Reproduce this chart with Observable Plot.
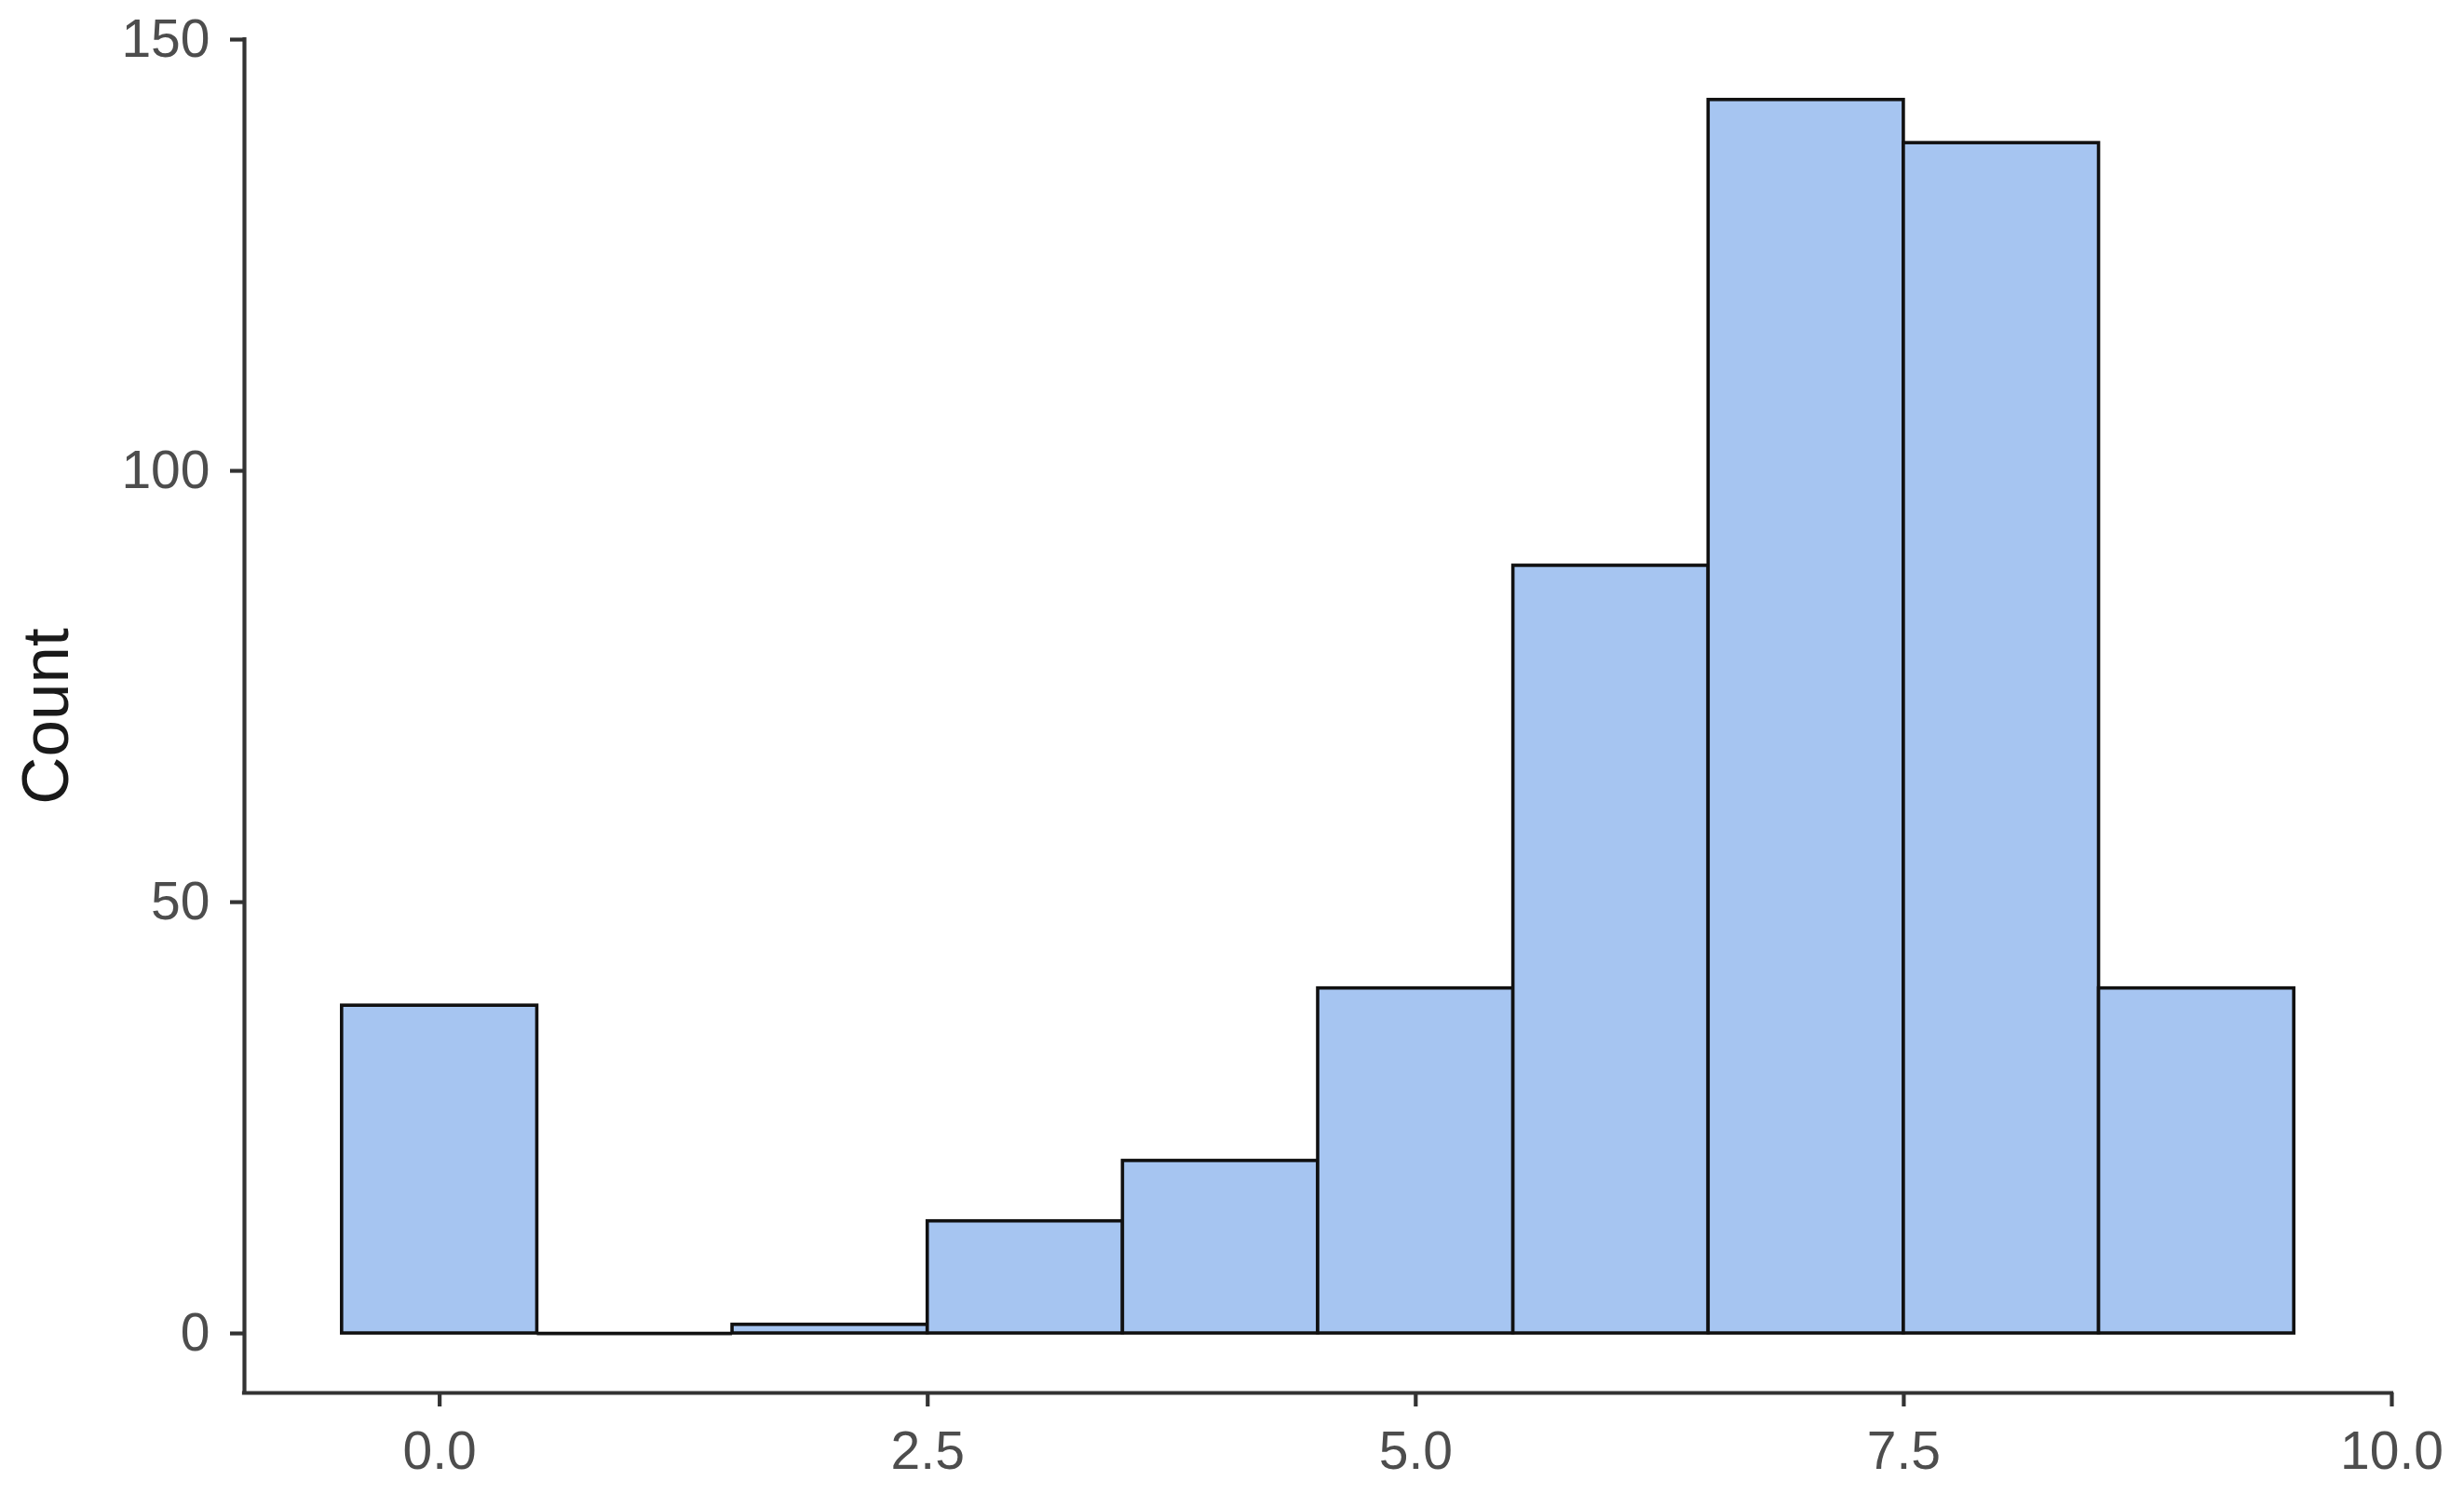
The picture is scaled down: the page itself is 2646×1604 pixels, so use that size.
<!DOCTYPE html>
<html>
<head>
<meta charset="utf-8">
<script src="https://cdn.jsdelivr.net/npm/d3@7"></script>
<script src="https://cdn.jsdelivr.net/npm/@observablehq/plot@0.6"></script>
<style>
  html, body { margin: 0; padding: 0; background: #ffffff; }
  #chart svg { display: block; }
</style>
</head>
<body>
<div id="chart"></div>
<script>
// ---- data ----
const binCenters = [0, 1, 2, 3, 4, 5, 6, 7, 8, 9];
const counts     = [38, 0, 1, 13, 20, 40, 89, 143, 138, 40];
const binWidth = 1;
const xTicks = [0, 2.5, 5, 7.5, 10];
const yTicks = [0, 50, 100, 150];
const xDomain = [-1, 10];
const yDomain = [-6.9, 150];
const yLabel = "Count";

const bins = binCenters.map((c, i) => ({x1: c - binWidth / 2, x2: c + binWidth / 2, count: counts[i]}));

const axisColor = "#333333";
const tickTextColor = "#4d4d4d";

const chart = Plot.plot({
  width: 2646,
  height: 1604,
  marginLeft: 262,
  marginRight: 78,
  marginTop: 42,
  marginBottom: 109,
  style: {fontFamily: "'Liberation Sans', Arial, sans-serif", background: "#ffffff", overflow: "visible"},
  x: {domain: xDomain, ticks: xTicks},
  y: {domain: yDomain, ticks: yTicks},
  marks: [
    Plot.rectY(bins, {x1: "x1", x2: "x2", y1: 0, y2: "count", fill: "#a6c5f1", stroke: "#111111", strokeWidth: 3.6}),
    // empty bins still show their outline along the baseline
    Plot.ruleY(bins.filter(b => b.count === 0), {y: "count", x1: "x1", x2: "x2", stroke: "#111111", strokeWidth: 3.6}),
    Plot.ruleX([xDomain[0]], {y1: yDomain[0], y2: yDomain[1], stroke: axisColor, strokeWidth: 4.2, strokeLinecap: "square"}),
    Plot.ruleY([yDomain[0]], {x1: xDomain[0], x2: xDomain[1], stroke: axisColor, strokeWidth: 4.2, strokeLinecap: "square"}),
    Plot.axisY({
      ticks: yTicks, tickSize: 15, tickPadding: 22, stroke: axisColor, strokeWidth: 4.2,
      fontSize: 57, fill: tickTextColor, label: null
    }),
    Plot.axisX({
      ticks: xTicks, tickSize: 15, tickPadding: 26, stroke: axisColor, strokeWidth: 4.2,
      tickFormat: d3.format(".1f"), fontSize: 57, fill: tickTextColor, label: null
    }),
    Plot.text([yLabel], {
      frameAnchor: "left", dx: -212, rotate: -90, text: d => d, textAnchor: "middle",
      fontSize: 71, fill: "#1a1a1a"
    })
  ]
});

document.getElementById("chart").appendChild(chart);
</script>
</body>
</html>
